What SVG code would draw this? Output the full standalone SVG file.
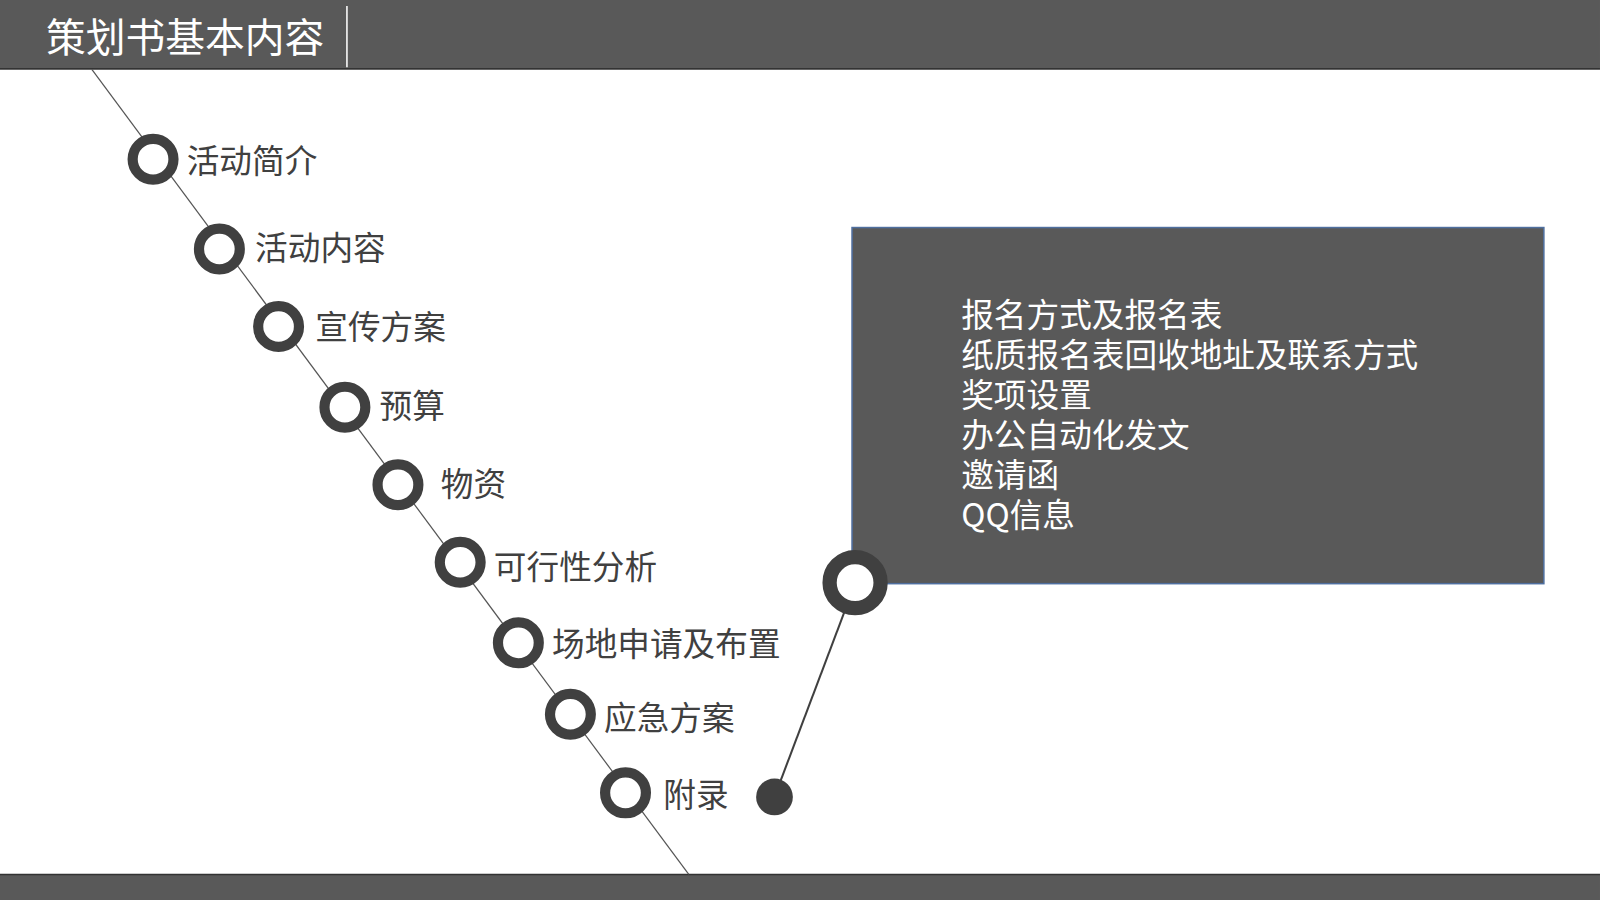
<svg xmlns="http://www.w3.org/2000/svg" width="1600" height="900" viewBox="0 0 1600 900">
<style>
.ring{fill:#fff;stroke:#404040;stroke-width:10}
.lbl{font-family:"Noto Sans CJK SC","Liberation Sans",sans-serif;font-size:32px;fill:#404040}
.box{font-family:"Noto Sans CJK SC","Liberation Sans",sans-serif;font-size:32px;fill:#fff}
</style>
<rect width="1600" height="900" fill="#fff"/>
<g transform="scale(1.0204)">
<g id="header">
<rect x="0" y="0" width="1568" height="67" fill="#595959"/>
<line x1="0" y1="67.5" x2="1568" y2="67.5" stroke="#333" stroke-width="1.5"/>
<line x1="340" y1="6" x2="340" y2="66" stroke="#fff" stroke-width="1.5"/>
<text x="45" y="51" font-family="Noto Sans CJK SC,Liberation Sans,sans-serif" font-size="39" fill="#fff">策划书基本内容</text>
</g>
<g id="footer">
<rect x="0" y="857" width="1568" height="40" fill="#595959"/>
<line x1="0" y1="857" x2="1568" y2="857" stroke="#333" stroke-width="1.5"/>
</g>
<g id="connectors">
<line x1="90" y1="68" x2="675" y2="857" stroke="#555" stroke-width="1.2"/>
<line x1="759" y1="781" x2="838" y2="572" stroke="#404040" stroke-width="2"/>
</g>
<g id="n1"><circle class="ring" cx="150" cy="156" r="20"/><text class="lbl" x="183" y="170">活动简介</text></g>
<g id="n2"><circle class="ring" cx="215" cy="244" r="20"/><text class="lbl" x="250" y="255">活动内容</text></g>
<g id="n3"><circle class="ring" cx="273" cy="320" r="20"/><text class="lbl" x="309" y="332">宣传方案</text></g>
<g id="n4"><circle class="ring" cx="338" cy="399" r="20"/><text class="lbl" x="372" y="410">预算</text></g>
<g id="n5"><circle class="ring" cx="390" cy="475" r="20"/><text class="lbl" x="432" y="486">物资</text></g>
<g id="n6"><circle class="ring" cx="451" cy="551" r="20"/><text class="lbl" x="484" y="567">可行性分析</text></g>
<g id="n7"><circle class="ring" cx="508" cy="630" r="20"/><text class="lbl" x="541" y="643">场地申请及布置</text></g>
<g id="n8"><circle class="ring" cx="559" cy="700" r="20"/><text class="lbl" x="592" y="715">应急方案</text></g>
<g id="n9"><circle class="ring" cx="613" cy="777" r="20"/><text class="lbl" x="650" y="791">附录</text></g>
<g id="dot"><circle cx="759" cy="781" r="18" fill="#404040"/></g>
<g id="box">
<rect x="835" y="223" width="678" height="349" fill="#595959" stroke="#4f6f9f" stroke-width="1.5"/>
<text class="box" x="942" y="320">报名方式及报名表</text>
<text class="box" x="942" y="360">纸质报名表回收地址及联系方式</text>
<text class="box" x="942" y="399">奖项设置</text>
<text class="box" x="942" y="438">办公自动化发文</text>
<text class="box" x="942" y="477">邀请函</text>
<text class="box" x="942" y="516">QQ信息</text>
</g>
<g id="bigring"><circle cx="838" cy="571" r="25" fill="#fff" stroke="#404040" stroke-width="14"/></g>
</g>
</svg>
